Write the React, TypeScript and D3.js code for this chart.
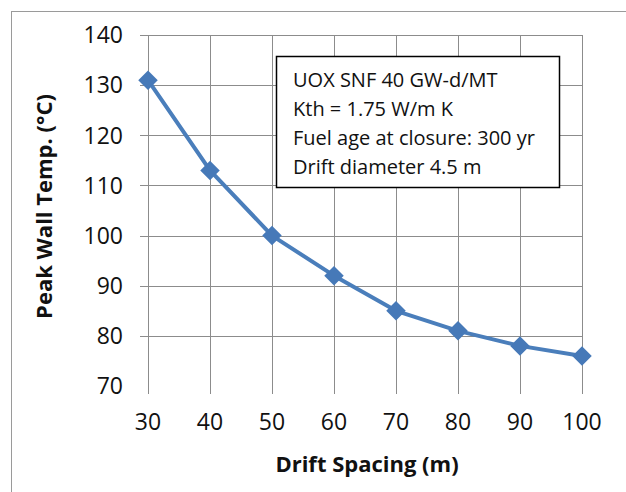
import React, { useEffect, useRef } from "react";
import * as d3 from "d3";

// ---- data ----
const spacing = [30, 40, 50, 60, 70, 80, 90, 100];
const wallTemp = [131, 113, 100, 92, 85, 81, 78, 76];
const yTicks = [70, 80, 90, 100, 110, 120, 130, 140];
const noteLines = [
  "UOX SNF 40 GW-d/MT",
  "Kth = 1.75 W/m K",
  "Fuel age at closure: 300 yr",
  "Drift diameter 4.5 m",
];

const FONT = "'Open Sans', 'Liberation Sans', sans-serif";

export default function App() {
  const ref = useRef<SVGSVGElement>(null);

  useEffect(() => {
    const svg = d3.select(ref.current);
    svg.selectAll("*").remove();

    const width = 626;
    const height = 492;
    const margin = { top: 35, right: 44, bottom: 106, left: 148 };
    const boundedWidth = width - margin.left - margin.right;
    const boundedHeight = height - margin.top - margin.bottom;

    // chart frame
    svg
      .append("rect")
      .attr("x", 11.5)
      .attr("y", 11.5)
      .attr("width", 640)
      .attr("height", 500)
      .attr("fill", "white")
      .attr("stroke", "#9a9a9a");

    const bounds = svg
      .append("g")
      .attr("transform", `translate(${margin.left},${margin.top})`);

    const xScale = d3.scaleLinear().domain([30, 100]).range([0, boundedWidth]);
    const yScale = d3.scaleLinear().domain([70, 140]).range([boundedHeight, 0]);

    // grid lines
    bounds
      .selectAll(".hgrid")
      .data(yTicks.filter((t) => t !== 70))
      .join("line")
      .attr("x1", -8)
      .attr("x2", boundedWidth)
      .attr("y1", (d) => Math.round(yScale(d)) + 0.5)
      .attr("y2", (d) => Math.round(yScale(d)) + 0.5)
      .attr("stroke", "#8c8c8c")
      .attr("stroke-width", 1);

    bounds
      .selectAll(".vgrid")
      .data(spacing)
      .join("line")
      .attr("x1", (d) => Math.round(xScale(d)) + 0.5)
      .attr("x2", (d) => Math.round(xScale(d)) + 0.5)
      .attr("y1", 0)
      .attr("y2", boundedHeight + 8)
      .attr("stroke", "#8c8c8c")
      .attr("stroke-width", 1);

    // tick labels
    bounds
      .selectAll(".ylab")
      .data(yTicks)
      .join("text")
      .attr("x", -25)
      .attr("y", (d) => yScale(d))
      .attr("dy", "0.36em")
      .attr("text-anchor", "end")
      .style("font-family", FONT)
      .style("font-size", "23px")
      .attr("fill", "#111")
      .text((d) => d);

    bounds
      .selectAll(".xlab")
      .data(spacing)
      .join("text")
      .attr("x", (d) => xScale(d))
      .attr("y", boundedHeight + 44)
      .attr("text-anchor", "middle")
      .style("font-family", FONT)
      .style("font-size", "23px")
      .attr("fill", "#111")
      .text((d) => d);

    // axis titles
    bounds
      .append("text")
      .attr("x", boundedWidth / 2 + 2)
      .attr("y", boundedHeight + 86)
      .attr("text-anchor", "middle")
      .style("font-family", FONT)
      .style("font-size", "22px")
      .style("font-weight", "bold")
      .attr("fill", "#111")
      .text("Drift Spacing (m)");

    bounds
      .append("text")
      .attr("transform", `translate(${-96},${boundedHeight / 2 - 4}) rotate(-90)`)
      .attr("text-anchor", "middle")
      .style("font-family", FONT)
      .style("font-size", "22px")
      .style("font-weight", "bold")
      .attr("fill", "#111")
      .text("Peak Wall Temp. (°C)");

    // data line + markers
    const points = spacing.map((s, i) => [s, wallTemp[i]] as [number, number]);
    const line = d3
      .line<[number, number]>()
      .x((d) => xScale(d[0]))
      .y((d) => yScale(d[1]));

    bounds
      .append("path")
      .datum(points)
      .attr("d", line)
      .attr("fill", "none")
      .attr("stroke", "#4a7ebb")
      .attr("stroke-width", 4)
      .attr("stroke-linejoin", "round");

    bounds
      .selectAll(".marker")
      .data(points)
      .join("path")
      .attr("transform", (d) => `translate(${xScale(d[0])},${yScale(d[1])}) rotate(45)`)
      .attr("d", d3.symbol().type(d3.symbolSquare).size(190)() as string)
      .attr("fill", "#4679b8");

    // note box
    const box = svg.append("g").attr("transform", "translate(276,56)");
    box
      .append("rect")
      .attr("x", 0.5)
      .attr("y", 0.5)
      .attr("width", 283)
      .attr("height", 131)
      .attr("fill", "white")
      .attr("stroke", "#000")
      .attr("stroke-width", 1.5);
    box
      .selectAll("text")
      .data(noteLines)
      .join("text")
      .attr("x", 17)
      .attr("y", (d, i) => 31 + i * 29)
      .style("font-family", FONT)
      .style("font-size", "20px")
      .attr("fill", "#111")
      .text((d) => d);
  }, []);

  return (
    <svg
      ref={ref}
      width={626}
      height={492}
      style={{ position: "absolute", left: 0, top: 0, background: "white" }}
    />
  );
}
